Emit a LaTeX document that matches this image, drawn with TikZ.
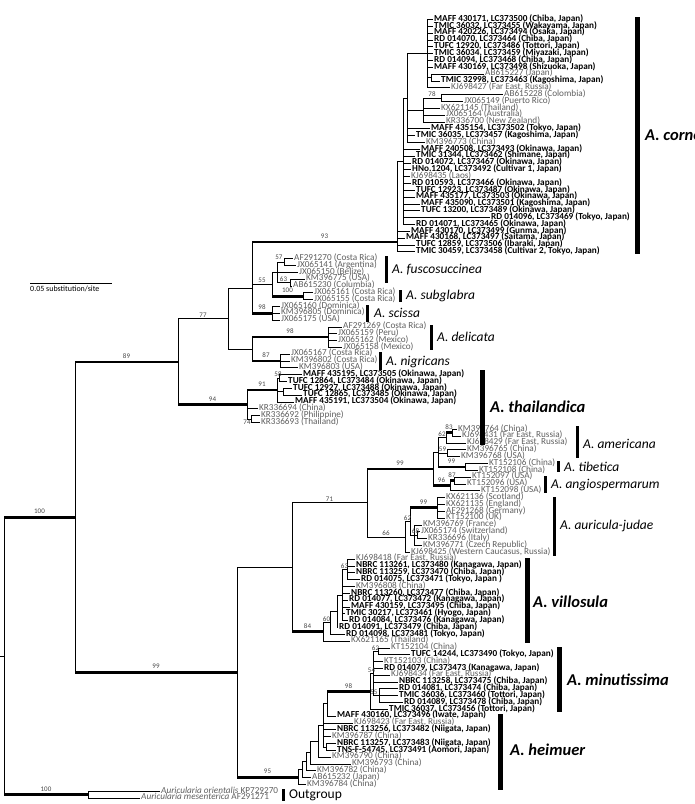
\documentclass[tikz,border=0pt]{standalone}
\usepackage{fontspec}
\setmainfont{Carlito}
\definecolor{tipgray}{RGB}{95,95,95}
\definecolor{bsgray}{RGB}{70,70,70}
\newcommand\tp[4]{\node[#3] (t#1) at ({#2},{19.5+6.83*(#1-1)}) {#4};}
\newcommand\B[2]{\draw[br] (#1) |- (#2);}
\newcommand\BL[3]{\draw[br] (#1) |- node[bs,pos=0.75]{#3} (#2);}
\newcommand\BK[3]{\draw[br] (#1) |- (#2); \draw[thk] (#1 |- #2) -- node[bs,yshift=1pt]{#3} (#2);}
\begin{document}
\begin{tikzpicture}[x=1pt,y=-1pt,
  br/.style={line width=0.7pt},
  thk/.style={line width=2.8pt},
  tipbase/.style={anchor=west,inner xsep=1pt,inner ysep=0pt,text height=5pt,text depth=1.4pt},
  bt/.style={tipbase,font=\fontsize{9.2}{9}\selectfont\bfseries},
  gt/.style={tipbase,font=\fontsize{9.2}{9}\selectfont,text=tipgray},
  bs/.style={font=\fontsize{7}{7}\selectfont,text=bsgray,inner sep=0.3pt,text height=4.6pt,text depth=0pt,anchor=south,yshift=0.6pt},
  cn/.style={anchor=west,inner sep=0pt,font=\fontsize{13.5}{13.5}\selectfont\itshape},
  cb/.style={anchor=west,inner sep=0pt,font=\fontsize{16.5}{16.5}\selectfont\bfseries\itshape},
  barn/.style={line width=3pt},
  barb/.style={line width=5pt}]
\useasboundingbox (0,0) rectangle (695,804);
% ---------------- tips ----------------
\tp{1}{433}{bt}{MAFF 430171, LC373500 (Chiba, Japan)}
\tp{2}{433}{bt}{TMIC 36032, LC373455 (Wakayama, Japan)}
\tp{3}{433}{bt}{MAFF 420226, LC373494 (Osaka, Japan)}
\tp{4}{433}{bt}{RD 014070, LC373464 (Chiba, Japan)}
\tp{5}{433}{bt}{TUFC 12920, LC373486 (Tottori, Japan)}
\tp{6}{433}{bt}{TMIC 36034, LC373459 (Miyazaki, Japan)}
\tp{7}{433}{bt}{RD 014094, LC373468 (Chiba, Japan)}
\tp{8}{433}{bt}{MAFF 430169, LC373498 (Shizuoka, Japan)}
\tp{9}{484}{gt}{AB615227 (Japan)}
\tp{10}{440}{bt}{TMIC 32998, LC373463 (Kagoshima, Japan)}
\tp{11}{450}{gt}{KJ698427 (Far East, Russia)}
\tp{12}{503}{gt}{AB615228 (Colombia)}
\tp{13}{463}{gt}{JX065149 (Puerto Rico)}
\tp{14}{440}{gt}{KX621145 (Thailand)}
\tp{15}{445}{gt}{JX065164 (Australia)}
\tp{16}{445}{gt}{KR336700 (New Zealand)}
\tp{17}{430}{bt}{MAFF 435154, LC373502 (Tokyo, Japan)}
\tp{18}{415}{bt}{TMIC 36035, LC373457 (Kagoshima, Japan)}
\tp{19}{425}{gt}{KM396773 (China)}
\tp{20}{420}{bt}{MAFF 240508, LC373493 (Okinawa, Japan)}
\tp{21}{415}{bt}{TMIC 31344, LC373462 (Shimane, Japan)}
\tp{22}{411}{bt}{RD 014072, LC373467 (Okinawa, Japan)}
\tp{23}{411}{bt}{HNo.1204, LC373492 (Cultivar 1, Japan)}
\tp{24}{410}{gt}{KJ698435 (Laos)}
\tp{25}{411}{bt}{RD 010593, LC373466 (Okinawa, Japan)}
\tp{26}{415}{bt}{TUFC 12923, LC373487 (Okinawa, Japan)}
\tp{27}{415}{bt}{MAFF 435177, LC373503 (Okinawa, Japan)}
\tp{28}{420}{bt}{MAFF 435090, LC373501 (Kagoshima, Japan)}
\tp{29}{420}{bt}{TUFC 13200, LC373489 (Okinawa, Japan)}
\tp{30}{490}{bt}{RD 014096, LC373469 (Tokyo, Japan)}
\tp{31}{415}{bt}{RD 014071, LC373465 (Okinawa, Japan)}
\tp{32}{410}{bt}{MAFF 430170, LC373499 (Gunma, Japan)}
\tp{33}{405}{bt}{MAFF 430168, LC373497 (Saitama, Japan)}
\tp{34}{415}{bt}{TUFC 12859, LC373506 (Ibaraki, Japan)}
\tp{35}{415}{bt}{TMIC 30459, LC373458 (Cultivar 2, Tokyo, Japan)}
\tp{36}{293}{gt}{AF291270 (Costa Rica)}
\tp{37}{296}{gt}{JX065141 (Argentina)}
\tp{38}{298}{gt}{JX065150 (Belize)}
\tp{39}{305}{gt}{KM396775 (USA)}
\tp{40}{292}{gt}{AB615230 (Columbia)}
\tp{41}{313}{gt}{JX065161 (Costa Rica)}
\tp{42}{313}{gt}{JX065155 (Costa Rica)}
\tp{43}{280}{gt}{JX065160 (Dominica)}
\tp{44}{280}{gt}{KM396805 (Dominica)}
\tp{45}{280}{gt}{JX065175 (USA)}
\tp{46}{342}{gt}{AF291269 (Costa Rica)}
\tp{47}{337}{gt}{JX065159 (Peru)}
\tp{48}{337}{gt}{JX065162 (Mexico)}
\tp{49}{342}{gt}{JX065158 (Mexico)}
\tp{50}{290}{gt}{JX065167 (Costa Rica)}
\tp{51}{290}{gt}{KM396802 (Costa Rica)}
\tp{52}{298}{gt}{KM396803 (USA)}
\tp{53}{302}{bt}{MAFF 435195, LC373505 (Okinawa, Japan)}
\tp{54}{287}{bt}{TUFC 12864, LC373484 (Okinawa, Japan)}
\tp{55}{292}{bt}{TUFC 12927, LC373488 (Okinawa, Japan)}
\tp{56}{302}{bt}{TUFC 12865, LC373485 (Okinawa, Japan)}
\tp{57}{294}{bt}{MAFF 435191, LC373504 (Okinawa, Japan)}
\tp{58}{258}{gt}{KR336694 (China)}
\tp{59}{260}{gt}{KR336692 (Philippine)}
\tp{60}{260}{gt}{KR336693 (Thailand)}
\tp{61}{457}{gt}{KM396764 (China)}
\tp{62}{461}{gt}{KJ698431 (Far East, Russia)}
\tp{63}{466}{gt}{KJ698429 (Far East, Russia)}
\tp{64}{466}{gt}{KM396765 (China)}
\tp{65}{460}{gt}{KM396768 (USA)}
\tp{66}{488}{gt}{KT152106 (China)}
\tp{67}{478}{gt}{KT152108 (China)}
\tp{68}{471}{gt}{KT152097 (USA)}
\tp{69}{466}{gt}{KT152096 (USA)}
\tp{70}{480}{gt}{KT152098 (USA)}
\tp{71}{445}{gt}{KX621136 (Scotland)}
\tp{72}{445}{gt}{KX621135 (England)}
\tp{73}{445}{gt}{AF291268 (Germany)}
\tp{74}{445}{gt}{KT152100 (UK)}
\tp{75}{422}{gt}{KM396769 (France)}
\tp{76}{420}{gt}{JX065174 (Switzerland)}
\tp{77}{427}{gt}{KR336696 (Italy)}
\tp{78}{422}{gt}{KM396771 (Czech Republic)}
\tp{79}{410}{gt}{KJ698425 (Western Caucasus, Russia)}
\tp{80}{355}{gt}{KJ698418 (Far East, Russia)}
\tp{81}{355}{bt}{NBRC 113261, LC373480 (Kanagawa, Japan)}
\tp{82}{355}{bt}{NBRC 113259, LC373470 (Chiba, Japan)}
\tp{83}{360}{bt}{RD 014075, LC373471 (Tokyo, Japan )}
\tp{84}{355}{gt}{KM396808 (China)}
\tp{85}{350}{bt}{NBRC 113260, LC373477 (Chiba, Japan)}
\tp{86}{348}{bt}{RD 014077, LC373472 (Kanagawa, Japan)}
\tp{87}{350}{bt}{MAFF 430159, LC373495 (Chiba, Japan)}
\tp{88}{345}{bt}{TMIC 30217, LC373461 (Hyogo, Japan)}
\tp{89}{348}{bt}{RD 014084, LC373476 (Kanagawa, Japan)}
\tp{90}{338}{bt}{RD 014091, LC373479 (Chiba, Japan)}
\tp{91}{345}{bt}{RD 014098, LC373481 (Tokyo, Japan)}
\tp{92}{350}{gt}{KX621165 (Thailand)}
\tp{93}{390}{gt}{KT152104 (China)}
\tp{94}{410}{bt}{TUFC 14244, LC373490 (Tokyo, Japan)}
\tp{95}{383}{gt}{KT152103 (China)}
\tp{96}{383}{bt}{RD 014079, LC373473 (Kanagawa, Japan)}
\tp{97}{390}{gt}{KJ698434 (Far East, Russia)}
\tp{98}{398}{bt}{NBRC 113258, LC373475 (Chiba, Japan)}
\tp{99}{398}{bt}{RD 014081, LC373474 (Chiba, Japan)}
\tp{100}{398}{bt}{TMIC 36036, LC373460 (Tottori, Japan)}
\tp{101}{403}{bt}{RD 014089, LC373478 (Chiba, Japan)}
\tp{102}{388}{bt}{TMIC 36037, LC373456 (Tottori, Japan)}
\tp{103}{336}{bt}{MAFF 430160, LC373496 (Iwate, Japan)}
\tp{104}{353}{gt}{KJ698423 (Far East, Russia)}
\tp{105}{336}{bt}{NBRC 113256, LC373482 (Niigata, Japan)}
\tp{106}{331}{gt}{KM396787 (China)}
\tp{107}{336}{bt}{NBRC 113257, LC373483 (Niigata, Japan)}
\tp{108}{336}{bt}{TNS-F-54745, LC373491 (Aomori, Japan)}
\tp{109}{331}{gt}{KM396790 (China)}
\tp{110}{351}{gt}{KM396793 (China)}
\tp{111}{316}{gt}{KM396782 (China)}
\tp{112}{311}{gt}{AB615232 (Japan)}
\tp{113}{306}{gt}{KM396784 (China)}
\tp{114}{160}{gt}{\textit{Auricularia orientalis} KP729270}
\tp{115}{140}{gt}{\textit{Auricularia mesenterica} AF291271}
% ---------------- internal nodes ----------------
\coordinate (c1a) at (431,77.5);
\coordinate (c1) at (427,53.65);
\coordinate (c78) at (441,98);
\coordinate (c2) at (423,110);
\coordinate (c3) at (407,98);
\coordinate (c4) at (403,161);
\coordinate (R) at (397,242);
\coordinate (f57) at (284,262);
\coordinate (f63) at (290,282.5);
\coordinate (fus) at (277,272);
\coordinate (sub) at (303,296.1);
\coordinate (n55) at (272,284);
\coordinate (P) at (252,263);
\coordinate (sc) at (272,313.19);
\coordinate (U1) at (252,288.1);
\coordinate (d98) at (328,337);
\coordinate (n87) at (280,361);
\coordinate (U2) at (252,349);
\coordinate (N77) at (228,318.5);
\coordinate (h58) at (279,378);
\coordinate (h2) at (283,391.7);
\coordinate (T91) at (277,390);
\coordinate (T74) at (251,419);
\coordinate (T94) at (247,404.5);
\coordinate (N89) at (178,362);
\coordinate (am83) at (452,432.7);
\coordinate (am62) at (446,437.8);
\coordinate (am2) at (447,453.2);
\coordinate (amR) at (438,452.35);
\coordinate (tib) at (465,466.9);
\coordinate (ang87) at (454,480.5);
\coordinate (ang96) at (450,485.7);
\coordinate (A99) at (433,469);
\coordinate (aj99) at (437,507.8);
\coordinate (aj68) at (417,535.2);
\coordinate (ajL) at (414,535.2);
\coordinate (aj62) at (410,521.5);
\coordinate (ajR) at (405,536.9);
\coordinate (A71) at (367,502.8);
\coordinate (v63) at (347,569.3);
\coordinate (v2) at (342,595);
\coordinate (v3) at (337,611);
\coordinate (v60) at (330,622.6);
\coordinate (v84) at (323,631.8);
\coordinate (V) at (292,567.3);
\coordinate (m62) at (378,651.3);
\coordinate (m54) at (373,673.5);
\coordinate (m55) at (379,695.7);
\coordinate (m98) at (370,691.4);
\coordinate (hz) at (327,703.8);
\coordinate (h78) at (326,746.9);
\coordinate (H6) at (323,725.3);
\coordinate (H5) at (318,741.2);
\coordinate (H4) at (310,752.6);
\coordinate (H3) at (306,761.7);
\coordinate (H2) at (302,769.7);
\coordinate (H95) at (298,777.1);
\coordinate (N99) at (237,672.2);
\coordinate (I) at (75,517.1);
\coordinate (O) at (88,794.7);
\coordinate (root) at (4,655.9);
\coordinate (rs) at (0,655.9);
% ---------------- branches: A. cornea ----------------
\foreach \i in {1,...,8} {\B{c1}{t\i.west}}
\B{c1a}{t9.west} \B{c1a}{t10.west}
\B{c1}{c1a} \B{c1}{t11.west}
\B{c78}{t12.west} \B{c78}{t13.west}
\BL{c2}{c78}{78}
\foreach \i in {14,15,16} {\B{c2}{t\i.west}}
\B{c3}{c1} \B{c3}{c2}
\foreach \i in {17,18,19} {\B{c3}{t\i.west}}
\B{c4}{c3}
\foreach \i in {20,...,31} {\B{c4}{t\i.west}}
\B{R}{c4}
\foreach \i in {32,...,35} {\B{R}{t\i.west}}
% fuscosuccinea ... nigricans
\B{f57}{t36.west} \B{f57}{t37.west}
\B{f63}{t39.west} \B{f63}{t40.west}
\B{fus}{f57} \B{fus}{t38.west} \BL{fus}{f63}{63}
\node[bs,anchor=south east] (l57) at (283,261) {57};
\B{sub}{t41.west} \B{sub}{t42.west}
\B{n55}{fus} \BK{n55}{sub}{100}
\BK{P}{R}{93} \BL{P}{n55}{55}
\foreach \i in {43,44,45} {\B{sc}{t\i.west}}
\B{U1}{P} \BK{U1}{sc}{98}
\foreach \i in {46,...,49} {\B{d98}{t\i.west}}
\foreach \i in {50,51,52} {\B{n87}{t\i.west}}
\BK{U2}{d98}{98} \BK{U2}{n87}{87}
\B{N77}{U1} \B{N77}{U2}
% thailandica
\B{h58}{t53.west} \B{h58}{t54.west}
\B{h2}{t55.west} \B{h2}{t56.west}
\BL{T91}{h58}{58} \B{T91}{h2} \B{T91}{t57.west}
\BK{T94}{T91}{91} \B{T94}{t58.west} \B{T94}{T74}
\B{T74}{t59.west} \B{T74}{t60.west}
\node[bs,anchor=north] (l74) at (247,420) {74};
\BL{N89}{N77}{77} \BK{N89}{T94}{94}
% americana ... auricula-judae
\B{am83}{t61.west} \B{am83}{t62.west}
\BK{am62}{am83}{83} \B{am62}{t63.west}
\B{am2}{t64.west} \B{am2}{t65.west}
\B{tib}{t66.west} \B{tib}{t67.west}
\BL{amR}{am62}{62} \BL{amR}{am2}{59} \BK{amR}{tib}{99}
\B{ang87}{t68.west} \B{ang87}{t69.west}
\BK{ang96}{ang87}{87} \B{ang96}{t70.west}
\B{A99}{amR} \BK{A99}{ang96}{96}
\foreach \i in {71,...,74} {\B{aj99}{t\i.west}}
\B{aj68}{t76.west} \B{aj68}{t77.west}
\B{ajL}{t75.west} \BL{ajL}{aj68}{68} \B{ajL}{t78.west}
\BK{aj62}{aj99}{99} \B{aj62}{ajL}
\BL{ajR}{aj62}{62} \B{ajR}{t79.west}
\BK{A71}{A99}{99} \BL{A71}{ajR}{66}
% villosula
\foreach \i in {80,...,83} {\B{v63}{t\i.west}}
\BL{v2}{v63}{63}
\foreach \i in {84,...,89} {\B{v2}{t\i.west}}
\B{v3}{v2} \B{v3}{t90.west}
\B{v60}{v3} \B{v60}{t91.west}
\BL{v84}{v60}{60} \B{v84}{t92.west}
\BL{V}{A71}{71} \BK{V}{v84}{84}
% minutissima, heimuer
\B{m62}{t93.west} \B{m62}{t94.west}
\BL{m54}{m62}{62}
\foreach \i in {95,...,98} {\B{m54}{t\i.west}}
\foreach \i in {99,100,101} {\B{m55}{t\i.west}}
\B{m54}{m55}
\node[bs,anchor=south east] (l55) at (378,696) {55};
\BL{m98}{m54}{54} \B{m98}{t102.west}
\BK{hz}{m98}{98} \B{hz}{t103.west}
\B{h78}{t107.west} \B{h78}{t108.west}
\B{H6}{hz} \B{H6}{t104.west} \B{H6}{t105.west} \B{H6}{t106.west} \B{H6}{h78}
\B{H5}{H6} \B{H5}{t109.west}
\B{H4}{H5} \B{H4}{t110.west}
\B{H3}{H4} \B{H3}{t111.west}
\B{H2}{H3} \B{H2}{t112.west}
\B{H95}{H2} \B{H95}{t113.west}
\B{N99}{V} \BK{N99}{H95}{95}
\BK{I}{N89}{89} \BK{I}{N99}{99}
\B{O}{t114.west} \B{O}{t115.west}
\BK{root}{I}{100} \BK{root}{O}{100}
\draw[br] (rs) -- (root);
% ---------------- scale bar ----------------
\coordinate (sb1) at (30,283);
\coordinate (sb2) at (112,283);
\draw[br] (sb1) -- (sb2);
\node[font=\fontsize{8}{8}\selectfont,anchor=north west,inner sep=0pt] (sbt) at (30,285.5) {0.05 substitution/site};
% ---------------- clade bars and labels ----------------
\draw[barb] (637.5,17) -- (637.5,254);
\node[cb] (Lcor) at (645,135) {A. cornea};
\draw[barn] (386.5,256) -- (386.5,283);
\node[cn] (Lfus) at (392,270) {A. fuscosuccinea};
\draw[barn] (400.5,290) -- (400.5,302);
\node[cn] (Lsub) at (406,296) {A. subglabra};
\draw[barn] (367.5,305) -- (367.5,322);
\node[cn] (Lsci) at (374,313) {A. scissa};
\draw[barn] (431.5,325) -- (431.5,350);
\node[cn] (Ldel) at (437,337) {A. delicata};
\draw[barn] (380.5,352) -- (380.5,370);
\node[cn] (Lnig) at (386,362) {A. nigricans};
\draw[barb] (482,370) -- (482,445);
\node[cb] (Ltha) at (490,407) {A. thailandica};
\draw[barn] (577.5,426) -- (577.5,458);
\node[cn] (Lame) at (583,444) {A. americana};
\draw[barn] (558.5,461) -- (558.5,472);
\node[cn] (Ltib) at (564,467) {A. tibetica};
\draw[barn] (545.5,476) -- (545.5,493);
\node[cn] (Lang) at (551,485) {A. angiospermarum};
\draw[barn] (554.5,497) -- (554.5,556);
\node[cn] (Laur) at (560,526) {A. auricula-judae};
\draw[barb] (527,558) -- (527,643);
\node[cb] (Lvil) at (533,602) {A. villosula};
\draw[barb] (559.5,647) -- (559.5,712);
\node[cb] (Lmin) at (567,680) {A. minutissima};
\draw[barb] (500.5,714) -- (500.5,790);
\node[cb] (Lhei) at (510,750) {A. heimuer};
\draw[barn] (283.5,789) -- (283.5,801);
\node[anchor=west,inner sep=0pt,font=\fontsize{13.5}{13.5}\selectfont] (Lout) at (289,795) {Outgroup};
\end{tikzpicture}
\end{document}
